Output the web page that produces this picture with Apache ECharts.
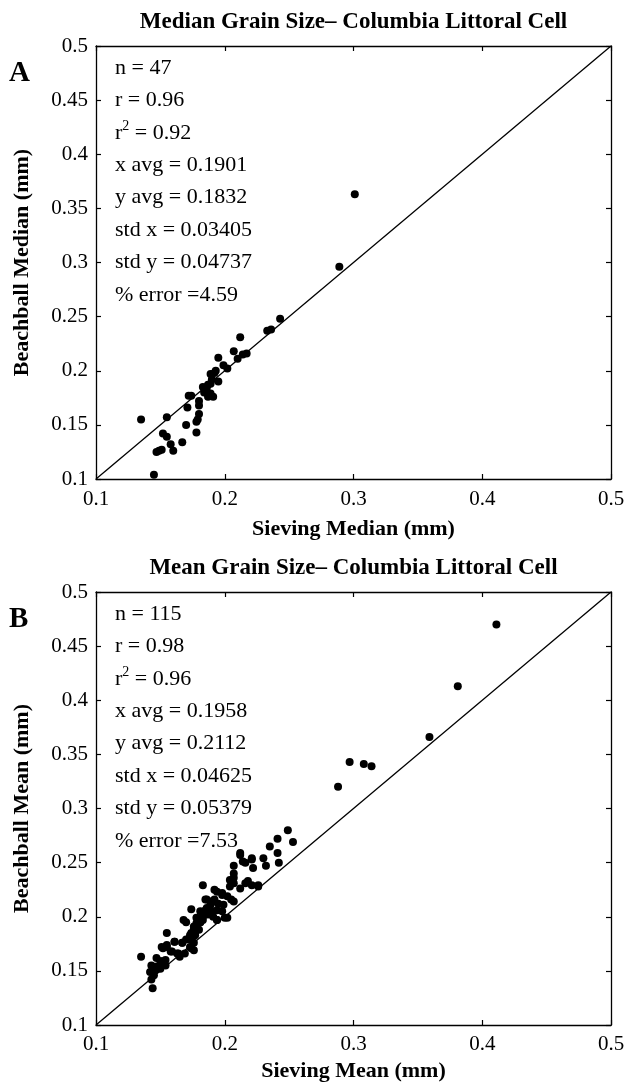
<!DOCTYPE html>
<html>
<head>
<meta charset="utf-8">
<script src="https://cdn.jsdelivr.net/npm/echarts@6/dist/echarts.min.js"></script>
<style>html,body{margin:0;padding:0;background:#fff}#c{width:625px;height:1084px}</style>
</head>
<body>
<div id="c"></div>
<script>
// ---- data ----
const panelTitles = ['Median Grain Size\u2013 Columbia Littoral Cell', 'Mean Grain Size\u2013 Columbia Littoral Cell'];
const panelLetters = ['A', 'B'];
const xNames = ['Sieving Median (mm)', 'Sieving Mean (mm)'];
const yNames = ['Beachball Median (mm)', 'Beachball Mean (mm)'];
const xTickValues = [0.1, 0.2, 0.3, 0.4, 0.5];
const yTickValues = [0.1, 0.15, 0.2, 0.25, 0.3, 0.35, 0.4, 0.45, 0.5];
const statsA = ['n = 47', 'r = 0.96', 'r{s|2} = 0.92', 'x avg = 0.1901', 'y avg = 0.1832', 'std x = 0.03405', 'std y = 0.04737', '% error =4.59'];
const statsB = ['n = 115', 'r = 0.98', 'r{s|2} = 0.96', 'x avg = 0.1958', 'y avg = 0.2112', 'std x = 0.04625', 'std y = 0.05379', '% error =7.53'];
const oneToOne = [[0.1, 0.1], [0.5, 0.5]];

// Panel A: sieving median (x) vs beachball median (y)
const medianPoints = [
  [0.301,0.363],[0.289,0.296],
  [0.243,0.248],[0.233,0.237],[0.236,0.238],[0.212,0.231],[0.207,0.218],[0.210,0.211],
  [0.214,0.215],[0.217,0.216],[0.195,0.212],[0.202,0.202],[0.193,0.200],[0.189,0.197],
  [0.192,0.198],[0.195,0.190],[0.189,0.188],[0.187,0.187],[0.183,0.185],[0.186,0.184],
  [0.189,0.179],[0.191,0.176],[0.187,0.176],[0.172,0.177],[0.174,0.177],[0.180,0.172],
  [0.180,0.168],[0.171,0.166],[0.180,0.160],[0.179,0.155],[0.178,0.153],[0.155,0.157],
  [0.135,0.155],[0.170,0.150],[0.178,0.143],[0.152,0.142],[0.155,0.139],[0.158,0.132],
  [0.167,0.134],[0.160,0.126],[0.147,0.125],[0.149,0.126],[0.151,0.127],[0.145,0.104],
  [0.190,0.192],[0.199,0.205],[0.184,0.180]
];

// Panel B: sieving mean (x) vs beachball mean (y)
const meanPoints = [
  [0.411,0.470],[0.381,0.413],[0.359,0.366],[0.297,0.343],[0.308,0.341],[0.314,0.339],[0.288,0.320],
  [0.249,0.280],[0.241,0.272],[0.253,0.269],[0.235,0.265],[0.241,0.259],[0.230,0.254],[0.232,0.247],[0.242,0.250],
  [0.212,0.259],[0.216,0.250],[0.221,0.253],[0.207,0.247],[0.207,0.240],[0.207,0.236],[0.204,0.234],[0.207,0.231],[0.204,0.228],
  [0.222,0.245],[0.218,0.233],[0.212,0.226],[0.226,0.229],
  [0.183,0.229],[0.194,0.223],[0.198,0.220],[0.202,0.219],
  [0.185,0.216],[0.189,0.214],[0.192,0.216],[0.195,0.212],[0.199,0.211],[0.207,0.214],
  [0.186,0.208],[0.190,0.205],[0.194,0.206],[0.198,0.205],[0.174,0.207],
  [0.183,0.200],[0.187,0.202],[0.191,0.200],[0.202,0.199],[0.194,0.197],
  [0.168,0.197],[0.170,0.195],[0.178,0.194],[0.181,0.195],[0.176,0.189],[0.180,0.188],
  [0.155,0.185],[0.173,0.183],[0.177,0.185],
  [0.161,0.177],[0.167,0.176],[0.170,0.179],
  [0.151,0.172],[0.155,0.174],[0.173,0.172],[0.176,0.169],
  [0.158,0.168],[0.164,0.166],[0.169,0.166],
  [0.135,0.163],[0.147,0.162],[0.150,0.159],[0.154,0.160],
  [0.143,0.155],[0.147,0.154],[0.146,0.151],[0.142,0.149],[0.145,0.146],[0.143,0.142],[0.144,0.134],
  [0.151,0.159],[0.154,0.155],[0.150,0.152],
  [0.192,0.225],[0.198,0.222],[0.205,0.216],[0.186,0.216],[0.189,0.211],[0.191,0.214],
  [0.181,0.205],[0.185,0.206],[0.187,0.203],[0.190,0.205],[0.178,0.199],[0.181,0.195],
  [0.183,0.197],[0.194,0.197],[0.200,0.199],[0.176,0.191],[0.178,0.189],[0.174,0.185],
  [0.177,0.183],[0.173,0.179],[0.176,0.176],[0.174,0.171],[0.167,0.176],[0.165,0.163],
  [0.161,0.177],[0.159,0.168],[0.163,0.166],[0.152,0.171],[0.155,0.172],[0.212,0.257],
  [0.214,0.251],[0.221,0.254],[0.216,0.231],[0.221,0.229],[0.226,0.228]
];

// ---- chart ----
const FONT = "'Liberation Serif','Times New Roman',serif";
const chart = echarts.init(document.getElementById('c'), null, {renderer: 'canvas'});
const grids = [
  {left: 96, top: 46, width: 515, height: 433, outerBoundsMode: 'none', containLabel: false},
  {left: 96, top: 592, width: 515, height: 433, outerBoundsMode: 'none', containLabel: false}
];
const nameGaps = [39, 35];
const fmt = v => {
  const r = Math.round(v * 100) / 100;
  return String(r);
};
const xAxes = [], yAxes = [];
grids.forEach((g, i) => {
  const base = {
    type: 'value', min: 0.1, max: 0.5, gridIndex: i,
    axisLine: {show: true, onZero: false, lineStyle: {color: '#000', width: 1.3}},
    axisTick: {show: true, inside: true, length: 5, lineStyle: {color: '#000', width: 1.2}},
    splitLine: {show: false}
  };
  xAxes.push(Object.assign({}, base, {
    position: 'bottom', interval: 0.1,
    axisLabel: {show: true, color: '#000', fontFamily: FONT, fontSize: 21, margin: 10 - i, formatter: fmt},
    name: xNames[i], nameLocation: 'middle', nameGap: nameGaps[i],
    nameTextStyle: {color: '#000', fontFamily: FONT, fontSize: 22, fontWeight: 'bold'}
  }));
  xAxes.push(Object.assign({}, base, {position: 'top', interval: 0.1, axisLabel: {show: false}}));
  yAxes.push(Object.assign({}, base, {
    position: 'left', interval: 0.05,
    axisLabel: {show: true, color: '#000', fontFamily: FONT, fontSize: 21, margin: 8, formatter: fmt},
    name: yNames[i], nameLocation: 'middle', nameGap: 63,
    nameTextStyle: {color: '#000', fontFamily: FONT, fontSize: 22, fontWeight: 'bold'}
  }));
  yAxes.push(Object.assign({}, base, {position: 'right', interval: 0.05, axisLabel: {show: false}}));
});

const graphics = [];
const statSets = [statsA, statsB];
grids.forEach((g, i) => {
  graphics.push({
    type: 'text', x: g.left + g.width / 2, y: g.top - 24,
    style: {text: panelTitles[i], fill: '#000', font: "bold 23px " + FONT, align: 'center', verticalAlign: 'middle'}
  });
  graphics.push({
    type: 'text', x: 9, y: g.top + 13,
    style: {text: panelLetters[i], fill: '#000', font: "bold 29px " + FONT}
  });
  statSets[i].forEach((s, k) => {
    graphics.push({
      type: 'text', x: 115, y: g.top + 22 + k * 32.4,
      style: {
        text: s, fill: '#000', font: "22px " + FONT, verticalAlign: 'middle',
        rich: {s: {fontSize: 14, fontFamily: FONT, fill: '#000', padding: [0, 0, 12, 0]}}
      }
    });
  });
});

const series = [];
[medianPoints, meanPoints].forEach((pts, i) => {
  series.push({
    type: 'line', xAxisIndex: i * 2, yAxisIndex: i * 2, data: oneToOne,
    symbol: 'none', lineStyle: {color: '#000', width: 1.3}, silent: true, z: 2
  });
  series.push({
    type: 'scatter', xAxisIndex: i * 2, yAxisIndex: i * 2, data: pts,
    symbol: 'circle', symbolSize: 8, itemStyle: {color: '#000', opacity: 1}, z: 3
  });
});

chart.setOption({
  backgroundColor: '#fff',
  animation: false,
  grid: grids,
  xAxis: xAxes,
  yAxis: yAxes,
  graphic: graphics,
  series: series
});
</script>
</body>
</html>
